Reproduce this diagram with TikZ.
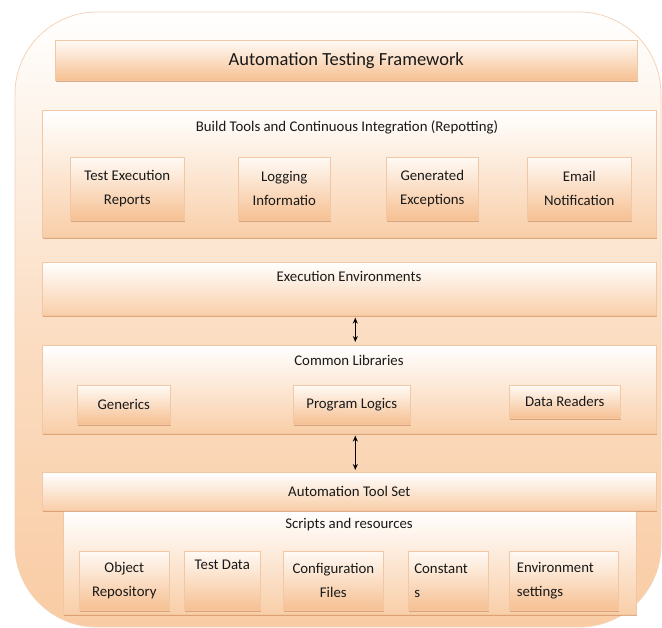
\documentclass[tikz,border=0pt]{standalone}
\usepackage{fontspec}
\setmainfont{Carlito}
\usetikzlibrary{shadows,arrows.meta}
\definecolor{peach}{RGB}{246,192,146}
\definecolor{peachlt}{RGB}{249,206,168}
\definecolor{topc}{RGB}{255,250,245}
\definecolor{bordc}{RGB}{240,200,165}
\definecolor{shadc}{RGB}{214,148,95}
\definecolor{outerbot}{RGB}{249,204,164}
\definecolor{outerbord}{RGB}{243,212,185}
\tikzset{
  txt/.style={font=\fontsize{14.8}{24}\selectfont, text=black!90},
  boxbase/.style={draw=bordc, line width=0.6pt, inner sep=0pt,
    drop shadow={shadow xshift=0.6pt, shadow yshift=-2pt, fill=shadc, opacity=0.75}},
  titlebox/.style={boxbase, top color=topc, bottom color=peach},
  container/.style={boxbase, top color=white, bottom color=peachlt},
  subbox/.style={boxbase, top color=topc, bottom color=peach, txt, align=center, inner sep=0pt},
  arr/.style={line width=0.9pt, {Stealth[length=6pt,width=5pt]}-{Stealth[length=6pt,width=5pt]}},
}
\begin{document}
\begin{tikzpicture}[x=1pt,y=-1pt]
\useasboundingbox (0,0) rectangle (662,628);
\fill[white] (0,0) rectangle (662,628);
% outer frame
\path[draw=outerbord, line width=0.8pt, rounded corners=82pt,
  top color=white, bottom color=outerbot, middle color=white!35!outerbot]
  (15,12) rectangle (661,627);

% title
\node[titlebox, minimum width=582pt, minimum height=40pt, anchor=north west,
  font=\fontsize{18.5}{20}\selectfont, text=black!90] (title) at (55,40) {Automation Testing Framework};

% build tools
\node[container, minimum width=614pt, minimum height=127pt, anchor=north west] (build) at (42,110) {};
\node[txt, anchor=center] (buildlbl) at (347,127) {Build Tools and Continuous Integration (Repotting)};
\node[subbox, minimum width=114pt, minimum height=63pt, anchor=north west] (ter) at (70,157) {Test Execution\\Reports};
\node[subbox, minimum width=92pt, minimum height=63pt, anchor=north west] (log) at (238,157) {Logging\\Informatio};
\node[subbox, minimum width=92pt, minimum height=63pt, anchor=north west] (gen) at (386,157) {Generated\\Exceptions};
\node[subbox, minimum width=104pt, minimum height=63pt, anchor=north west] (mail) at (527,157) {Email\\Notification};

% execution environments
\node[container, minimum width=614pt, minimum height=53pt, anchor=north west] (ee) at (42,262) {};
\node[txt] (eelbl) at (349,276) {Execution Environments};

% common libraries
\node[container, minimum width=614pt, minimum height=88pt, anchor=north west] (cl) at (42,345) {};
\node[txt] (cllbl) at (349,360) {Common Libraries};
\node[subbox, minimum width=93pt, minimum height=39pt, anchor=north west] (generics) at (77,385) {Generics};
\node[subbox, minimum width=117pt, minimum height=39pt, anchor=north west] (logic) at (293,385) {Program Logics};
\node[subbox, minimum width=111pt, minimum height=33pt, anchor=north west] (readers) at (509,385) {Data Readers};

% scripts and resources
\node[container, minimum width=573pt, minimum height=104pt, anchor=north west] (scripts) at (63,510) {};
\node[txt] (scriptslbl) at (349,525) {Scripts and resources};

% automation tool set
\node[container, minimum width=614pt, minimum height=38pt, anchor=north west, txt] (ats) at (42,472) {Automation Tool Set};

\node[subbox, minimum width=90pt, minimum height=59pt, anchor=north west] (objrep) at (79,551) {Object\\Repository};
\node[subbox, minimum width=76pt, minimum height=59pt, anchor=north west] (tdata) at (184,551) {Test Data\\\strut};
\node[subbox, minimum width=100pt, minimum height=59pt, anchor=north west] (conf) at (283,551) {Configuration\\Files};
\node[subbox, minimum width=80pt, minimum height=59pt, anchor=north west, align=left, text width=68pt] (const) at (408,551) {Constant\\s};
\node[subbox, minimum width=109pt, minimum height=59pt, anchor=north west, align=left, text width=94pt] (envset) at (509,551) {Environment\\settings};

% arrows
\draw[arr] ([xshift=6pt,yshift=-2pt]ee.south) -- ([xshift=6pt,yshift=3pt]cl.north);
\draw[arr] ([xshift=6pt,yshift=-2pt]cl.south) -- ([xshift=6pt,yshift=2pt]ats.north);
\end{tikzpicture}
\end{document}
